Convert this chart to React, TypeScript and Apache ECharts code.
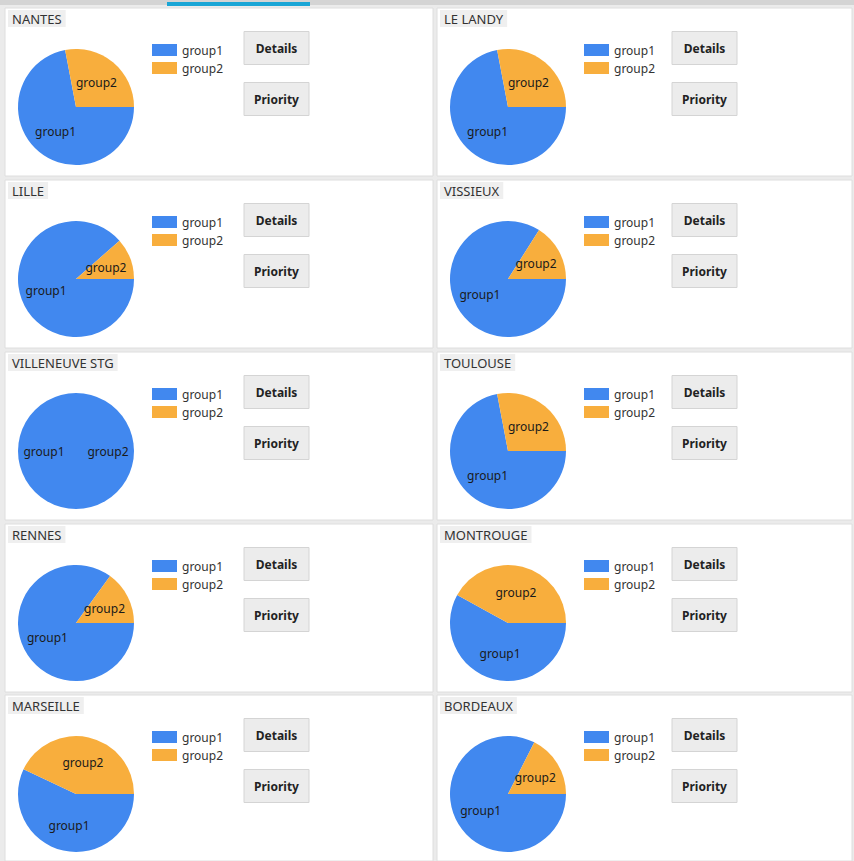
import React, { useEffect, useRef } from "react";
import * as echarts from "echarts";

const CITIES = ["NANTES", "LE LANDY", "LILLE", "VISSIEUX", "VILLENEUVE STG", "TOULOUSE", "RENNES", "MONTROUGE", "MARSEILLE", "BORDEAUX"];
const GROUPS = ["group1", "group2"];
const GROUP1 = [72, 72, 88.5, 84, 100, 72, 85, 58, 57, 82.5];
const GROUP2 = [28, 28, 11.5, 16, 0, 28, 15, 42, 43, 17.5];
const BUTTONS = ["Details", "Priority"];

const COLORS = ["#4188ef", "#f8ae3d"];
const FONT = "'Noto Sans', 'Open Sans', sans-serif";
const COL_X = [5, 437];
const COL_W = [428, 415];
const BTN_X = [239, 235];
const ROW_Y = [8, 180, 352, 524, 695];
const PANEL_H = 168;

export default function App() {
  const ref = useRef<HTMLDivElement>(null);
  useEffect(() => {
    document.body.style.margin = "0";
    const chart = echarts.init(ref.current!, null, { renderer: "svg" });
    const graphics: any[] = [
      { type: "rect", shape: { x: 0, y: 0, width: 854, height: 861 }, style: { fill: "#ebebeb" }, z: 0 },
      { type: "rect", shape: { x: 0, y: 0, width: 854, height: 5 }, style: { fill: "#d4d4d4" }, z: 1 },
      { type: "rect", shape: { x: 167, y: 2, width: 143, height: 4 }, style: { fill: "#1aa6d6" }, z: 2 },
    ];
    const titles: any[] = [];
    const legends: any[] = [];
    const series: any[] = [];
    CITIES.forEach((city, i) => {
      const col = i % 2;
      const row = Math.floor(i / 2);
      const x0 = COL_X[col];
      const y0 = ROW_Y[row];
      const h = Math.min(PANEL_H, 861 - y0);
      graphics.push({
        type: "rect",
        shape: { x: x0, y: y0, width: COL_W[col], height: h },
        style: { fill: "#ffffff", stroke: "#dedede", lineWidth: 1 },
        z: 1,
      });
      BUTTONS.forEach((b, k) => {
        const cy = y0 + 40 + k * 51;
        const bx = x0 + BTN_X[col];
        graphics.push({
          type: "rect",
          shape: { x: bx, y: cy - 16.5, width: 65, height: 33 },
          style: { fill: "#ececec", stroke: "#d4d4d4", lineWidth: 1 },
          z: 3,
        });
        graphics.push({
          type: "text",
          x: bx + 32.5,
          y: cy,
          style: { text: b, fill: "#222", font: `bold 12px ${FONT}`, textAlign: "center", textVerticalAlign: "middle" },
          z: 4,
        });
      });
      titles.push({
        text: city,
        left: x0 + 3,
        top: y0 + 2,
        padding: [2, 4, 2, 4],
        backgroundColor: "#efefef",
        textStyle: { fontSize: 13, fontWeight: "normal", color: "#333", fontFamily: FONT },
      });
      legends.push({
        data: GROUPS,
        orient: "vertical",
        left: x0 + 147,
        top: y0 + 36,
        padding: 0,
        itemWidth: 25,
        itemHeight: 12,
        itemGap: 6,
        icon: "rect",
        selectedMode: false,
        textStyle: { fontSize: 12, color: "#333", fontFamily: FONT },
      });
      series.push({
        type: "pie",
        name: city,
        center: [x0 + 71, y0 + 99],
        radius: 58,
        startAngle: 0,
        clockwise: true,
        avoidLabelOverlap: false,
        label: { show: true, position: "inside", color: "#1a1a1a", fontSize: 12, fontFamily: FONT },
        labelLine: { show: false },
        itemStyle: { borderWidth: 0 },
        emphasis: { disabled: true },
        data: [
          { name: GROUPS[0], value: GROUP1[i] },
          { name: GROUPS[1], value: GROUP2[i] },
        ],
      });
    });
    chart.setOption({
      animation: false,
      color: COLORS,
      textStyle: { fontFamily: FONT },
      graphic: graphics,
      title: titles,
      legend: legends,
      series,
    });
    return () => chart.dispose();
  }, []);
  return <div ref={ref} style={{ width: 854, height: 861 }} />;
}
